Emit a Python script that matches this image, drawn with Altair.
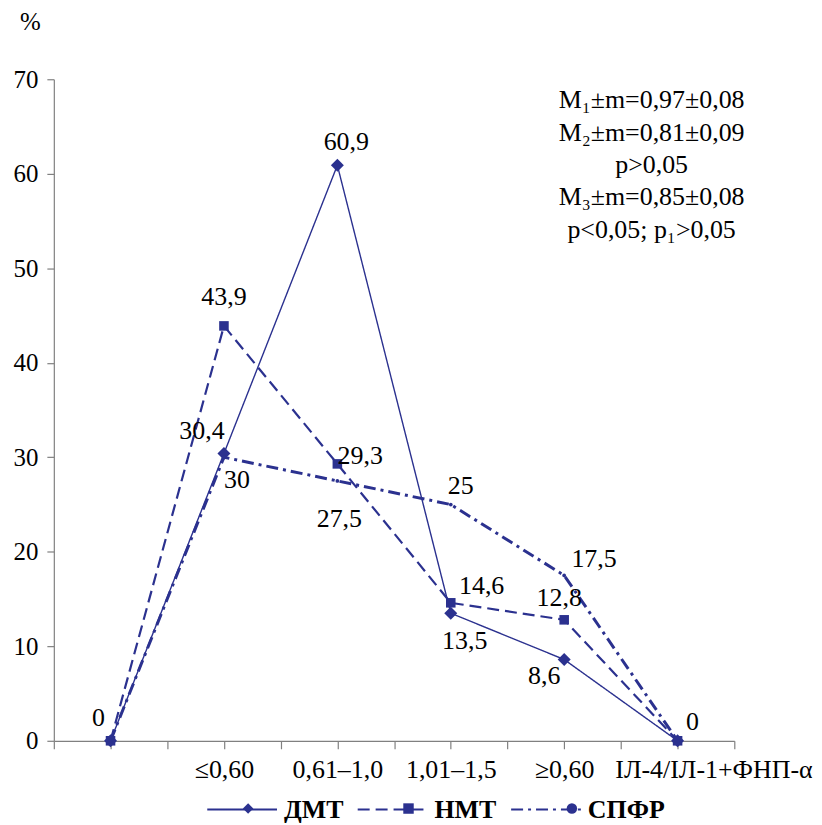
import json
import altair as alt
import pandas as pd

# ---- data ----
categories = ["", "≤0,60", "0,61–1,0", "1,01–1,5", "≥0,60", "ІЛ-4/ІЛ-1+ФНП-α"]
series_names = ["ДМТ", "НМТ", "СПФР"]
dmt = [0, 30.4, 60.9, 13.5, 8.6, 0]
nmt = [0, 43.9, 29.3, 14.6, 12.8, 0]
spfr = [0, 30, 27.5, 25, 17.5, 0]
annotation = ["M₁±m=0,97±0,08", "M₂±m=0,81±0,09", "p>0,05",
              "M₃±m=0,85±0,08", "p<0,05; p₁>0,05"]

# ---- styling (label offsets in px; None = label hidden) ----
label_offsets = {
    "ДМТ": [(-12, -23), (-22, -23), (9, -23), (14, 28), (-20, 17), (15, -19)],
    "НМТ": [None, (0, -29), (23, -8), (31, -17), (-5, -22), None],
    "СПФР": [None, (13, 23), (2, 38), (10, -19), (30, -16), None],
}
NAVY = "#2b318f"
FONT = "Liberation Serif"
FS = 26

rows = []
for name, vals in zip(series_names, [dmt, nmt, spfr]):
    for i, v in enumerate(vals):
        off = label_offsets[name][i]
        rows.append({
            "series": name, "marker": name, "x": i + 0.5, "value": v,
            "label": (str(v).replace(".", ",")) if off else "",
            "dx": off[0] if off else 0, "dy": off[1] if off else 0,
        })
df = pd.DataFrame(rows)

x_scale = alt.Scale(domain=[0, 6], nice=False, zero=False)
y_scale = alt.Scale(domain=[0, 70], nice=False)

cat_js = json.dumps(categories, ensure_ascii=False)
x_axis = alt.Axis(
    values=[i * 0.5 for i in range(13)],
    labelExpr=f"(datum.value % 1 == 0.5) ? {cat_js}[floor(datum.value)] : ''",
    title=None, grid=False, domainColor="#808080", tickColor="#808080",
    tickSize=8, labelFont=FONT, labelFontSize=FS, labelColor="black",
    labelPadding=8, labelOverlap=False, labelBound=False, labelFlush=False,
    labelLimit=400,
    labelOffset={"condition": {"test": "datum.value == 5.5", "value": 36}, "value": 0},
)
y_axis = alt.Axis(
    values=list(range(0, 80, 10)), title="%", titleAngle=0,
    titleX=-24, titleY=-58, titleAlign="center", titleBaseline="middle",
    titleFont=FONT, titleFontSize=25, titleFontWeight="normal", titleColor="black",
    grid=False, domainColor="#808080", tickColor="#808080", tickSize=7,
    labelFont=FONT, labelFontSize=25, labelColor="black", labelPadding=9,
)

base = alt.Chart(df).encode(
    x=alt.X("x:Q", scale=x_scale, axis=x_axis),
    y=alt.Y("value:Q", scale=y_scale, axis=y_axis),
)

lines = base.mark_line(color=NAVY).encode(
    strokeDash=alt.StrokeDash(
        "series:N",
        scale=alt.Scale(domain=series_names, range=[[1, 0], [12, 6], [12, 5, 3, 5]]),
        legend=alt.Legend(
            title=None, orient="none", direction="horizontal",
            legendX=153, legendY=697, symbolType="stroke", symbolSize=4900,
            symbolStrokeColor=NAVY, symbolStrokeWidth=2, labelFont=FONT,
            labelFontSize=FS, labelFontWeight="bold", labelColor="black",
            labelOffset=6, columnPadding=10, symbolOpacity=1,
        ),
    ),
    strokeWidth=alt.StrokeWidth(
        "series:N",
        scale=alt.Scale(domain=series_names, range=[1.4, 3, 2.6]),
        legend=None,
    ),
    detail="series:N",
)

# marker legend overlaid on the line legend (labels invisible, same entry widths)
points = base.mark_point(filled=True, color=NAVY, opacity=1).encode(
    shape=alt.Shape(
        "marker:N",
        scale=alt.Scale(domain=series_names, range=["diamond", "square", "circle"]),
        legend=alt.Legend(
            title=None, orient="none", direction="horizontal",
            legendX=153 + 29, legendY=697 + 22, symbolSize=110,
            symbolFillColor=NAVY, symbolStrokeColor=NAVY, symbolStrokeWidth=0,
            symbolOpacity=1, labelFont=FONT, labelFontSize=FS,
            labelFontWeight="bold", labelOpacity=0, labelOffset=65,
            columnPadding=10,
        ),
    ),
    size=alt.Size("marker:N",
                  scale=alt.Scale(domain=series_names, range=[170, 14, 18]),
                  legend=None),
)

labels = base.mark_text(
    font=FONT, fontSize=FS, color="black", align="center", baseline="middle",
    dx=alt.expr("datum.dx"), dy=alt.expr("datum.dy"),
).encode(text="label:N")

note = alt.Chart(pd.DataFrame({"t": ["\n".join(annotation)]})).mark_text(
    font=FONT, fontSize=FS, color="black", align="center", baseline="top",
    lineBreak="\n", lineHeight=32.5,
).encode(text="t:N", x=alt.value(600), y=alt.value(8))

chart = alt.layer(lines, points, labels, note).resolve_legend(
    shape="independent", strokeDash="independent"
).properties(
    width=683, height=664,
    autosize=alt.AutoSizeParams(type="none"),
    padding={"left": 46, "top": 70, "right": 80, "bottom": 82},
).configure_view(stroke=None).configure_axis(domainWidth=1.2, tickWidth=1.2)

chart.save("out.html", embed_options={"renderer": "svg", "actions": False})
